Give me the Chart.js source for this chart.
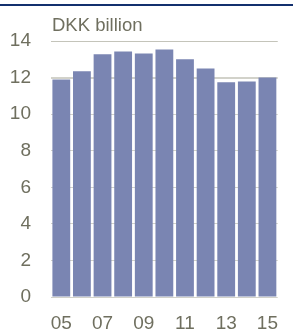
<!DOCTYPE html>
<html>
<head>
<meta charset="utf-8">
<script src="https://cdn.jsdelivr.net/npm/chart.js@4/dist/chart.umd.min.js"></script>
<style>
  html, body { margin: 0; padding: 0; background: #ffffff; }
  #wrap { position: relative; width: 293px; height: 332px; overflow: hidden; }
  #topline { position: absolute; left: 0; top: 4px; width: 293px; height: 2px; background: #13306e; }
  #unit { position: absolute; left: 52px; top: 14px; font-family: "Liberation Sans", Arial, sans-serif; font-size: 18.5px; color: #6f6f5f; line-height: 22px; white-space: nowrap; }
  canvas { position: absolute; left: 0; top: 0; }
</style>
</head>
<body>
<div id="wrap">
  <canvas id="c" width="293" height="332"></canvas>
  <div id="topline"></div>
  <div id="unit">DKK billion</div>
</div>
<script>
const categories = ['05','06','07','08','09','10','11','12','13','14','15'];
const values = [11.9, 12.34, 13.27, 13.43, 13.32, 13.54, 13.0, 12.5, 11.74, 11.79, 12.01];
const yTicks = [0, 2, 4, 6, 8, 10, 12, 14];

const textColor = '#6f6f5f';
const fontSpec = { family: '"Liberation Sans", Arial, sans-serif', size: 19 };

new Chart(document.getElementById('c'), {
  type: 'bar',
  data: {
    labels: categories,
    datasets: [{
      data: values,
      backgroundColor: '#7a85b2',
      borderWidth: 0,
      barPercentage: 0.864,
      categoryPercentage: 1.0
    }]
  },
  options: {
    responsive: false,
    animation: false,
    devicePixelRatio: 1,
    layout: { padding: { top: 41, right: 0, bottom: 0, left: 0 } },
    plugins: { legend: { display: false }, tooltip: { enabled: false }, title: { display: false } },
    scales: {
      x: {
        grid: { display: false, drawTicks: false },
        border: { display: false },
        ticks: {
          autoSkip: false,
          maxRotation: 0,
          padding: 15,
          color: textColor,
          font: fontSpec,
          callback: function (v, i) { return i % 2 === 0 ? categories[i] : ''; }
        },
        afterFit: function (s) { s.height = 35; }
      },
      y: {
        min: 0,
        max: 14,
        afterBuildTicks: function (s) { s.ticks = yTicks.map(v => ({ value: v })); },
        grid: {
          drawTicks: false,
          color: function (ctx) { return ctx.tick && ctx.tick.value === 14 ? '#c4c4ba' : '#d2d2ca'; },
          lineWidth: function (ctx) { return ctx.tick && ctx.tick.value === 12 ? 2 : 1; }
        },
        border: { display: false },
        ticks: { padding: 20, color: textColor, font: fontSpec },
        afterFit: function (s) { s.width = 51; }
      }
    }
  }
});
</script>
</body>
</html>
